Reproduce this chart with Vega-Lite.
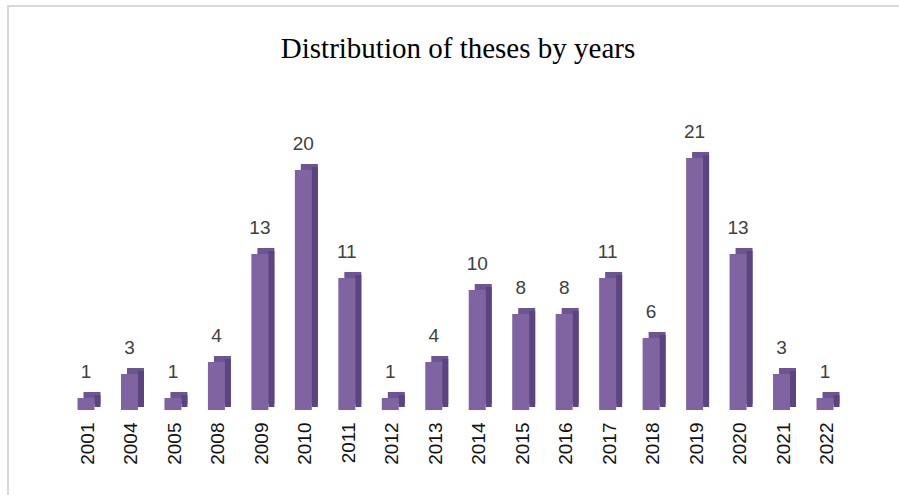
{
  "$schema": "https://vega.github.io/schema/vega-lite/v6.json",
  "autosize": {"type": "none"},
  "padding": {"left": 8, "top": 6, "right": 0, "bottom": 0},
  "width": 900,
  "height": 500,
  "background": "white",
  "config": {
    "view": {"stroke": "#d9d9d9", "strokeWidth": 2},
    "font": "Liberation Sans"
  },
  "title": {
    "text": "Distribution of theses by years",
    "font": "Liberation Serif",
    "fontSize": 29,
    "fontWeight": "normal",
    "color": "#000000",
    "anchor": "middle",
    "offset": -58
  },
  "data": {
    "values": [
      {"year": "2001", "count": 1},
      {"year": "2004", "count": 3},
      {"year": "2005", "count": 1},
      {"year": "2008", "count": 4},
      {"year": "2009", "count": 13},
      {"year": "2010", "count": 20},
      {"year": "2011", "count": 11},
      {"year": "2012", "count": 1},
      {"year": "2013", "count": 4},
      {"year": "2014", "count": 10},
      {"year": "2015", "count": 8},
      {"year": "2016", "count": 8},
      {"year": "2017", "count": 11},
      {"year": "2018", "count": 6},
      {"year": "2019", "count": 21},
      {"year": "2020", "count": 13},
      {"year": "2021", "count": 3},
      {"year": "2022", "count": 1}
    ]
  },
  "encoding": {
    "x": {
      "field": "year",
      "type": "ordinal",
      "sort": null,
      "scale": {"range": [69.5, 825.5], "paddingInner": 0.609, "paddingOuter": 0},
      "axis": {
        "title": null,
        "orient": "bottom",
        "offset": -96,
        "domain": false,
        "ticks": false,
        "labelAngle": -90,
        "labelAlign": "right",
        "labelBaseline": "middle",
        "labelPadding": 12,
        "labelFontSize": 19,
        "labelFont": "Liberation Sans",
        "labelColor": "#111111",
        "labelOffset": 2
      }
    }
  },
  "layer": [
    {
      "mark": {"type": "bar", "color": "#6c5590", "xOffset": 6, "x2Offset": 6, "yOffset": -6, "y2Offset": -6},
      "encoding": {
        "y": {"field": "count", "type": "quantitative", "scale": {"domain": [-8, 33.6667], "nice": false, "zero": false}, "axis": null},
        "y2": {"datum": 0}
      }
    },
    {
      "mark": {"type": "bar", "color": "#5b4580", "width": 6, "xOffset": 11.5, "yOffset": -3, "y2Offset": -3},
      "encoding": {
        "y": {"field": "count", "type": "quantitative"},
        "y2": {"datum": 0}
      }
    },
    {
      "mark": {"type": "bar", "color": "#8064a2"},
      "encoding": {
        "y": {"field": "count", "type": "quantitative"},
        "y2": {"datum": 0}
      }
    },
    {
      "mark": {"type": "text", "fontSize": 19, "color": "#404040", "baseline": "middle", "dy": -26, "font": "Liberation Sans"},
      "encoding": {
        "y": {"field": "count", "type": "quantitative"},
        "text": {"field": "count", "type": "quantitative"}
      }
    }
  ]
}
